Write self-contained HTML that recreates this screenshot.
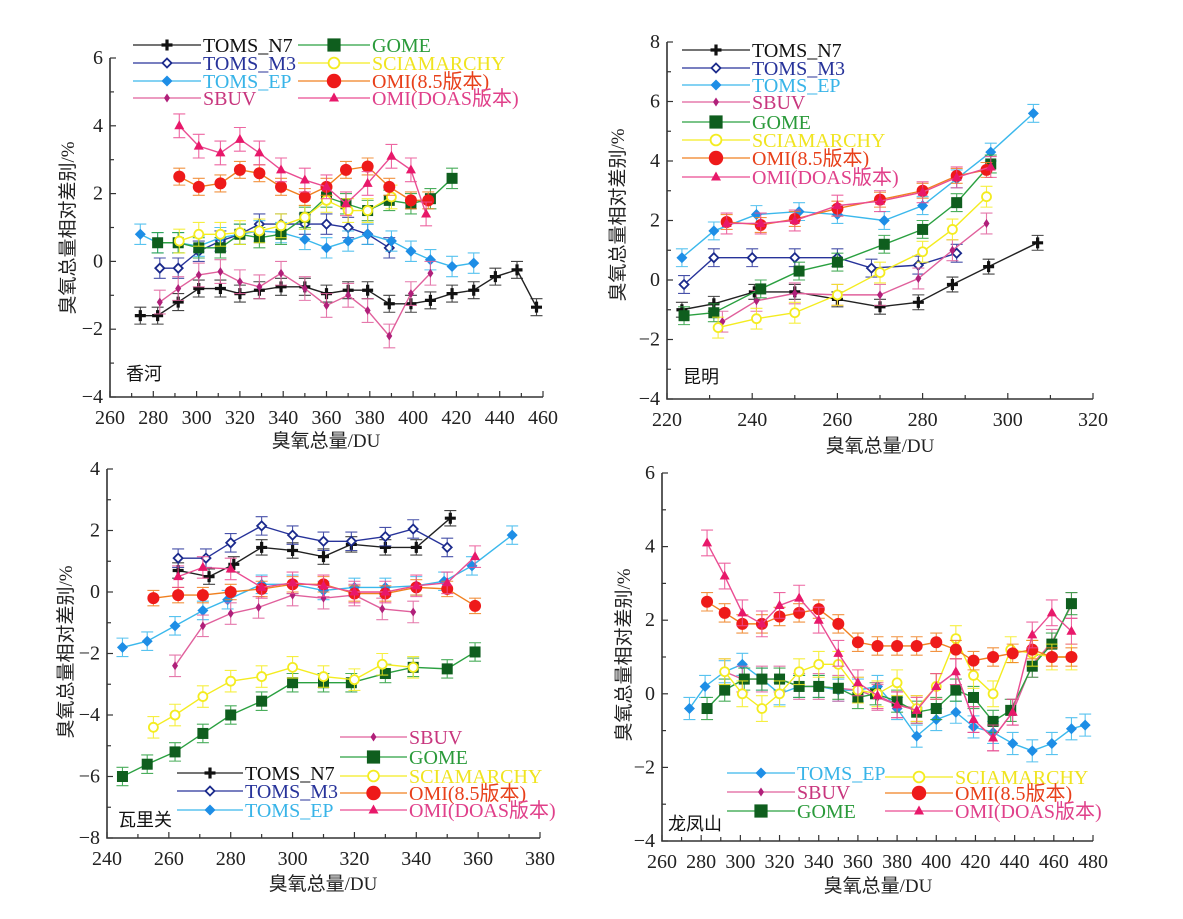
<!DOCTYPE html>
<html><head><meta charset="utf-8">
<style>
html,body{margin:0;padding:0;background:#fff;}
svg{display:block;}
text{font-family:"Liberation Serif","Noto Serif CJK SC",serif;}
.cjk{font-family:"Liberation Serif","Noto Sans CJK SC",sans-serif;}
</style></head>
<body>
<svg id="chart" width="1183" height="919" viewBox="0 0 1183 919" xmlns="http://www.w3.org/2000/svg"></svg>
<script>
// ---------- Panel 1: 香河 ----------
const p1_N7_x=[274,282,291.5,301,311,320,329,339,350,360,370,379,389,399,408,418,428,438,448,457];
const p1_N7_y=[-1.6,-1.6,-1.2,-0.8,-0.8,-0.95,-0.85,-0.75,-0.75,-0.95,-0.85,-0.85,-1.25,-1.25,-1.15,-0.95,-0.85,-0.45,-0.25,-1.35];
const p1_M3_x=[283,291.5,301,311,320,329,339,350,360,370,379,389];
const p1_M3_y=[-0.2,-0.2,0.3,0.6,0.8,1.1,1.1,1.1,1.1,1.0,0.8,0.4];
const p1_EP_x=[274,282,291.5,301,311,320,329,339,350,360,370,379,390,399,408,418,428];
const p1_EP_y=[0.8,0.55,0.55,0.45,0.7,0.8,0.9,0.85,0.65,0.4,0.6,0.8,0.6,0.3,0.05,-0.15,-0.05];
const p1_SB_x=[283,291.5,301,311,320,329,339,350,360,370,379,389,399,408];
const p1_SB_y=[-1.2,-0.8,-0.4,-0.3,-0.6,-0.75,-0.35,-0.8,-1.3,-1.0,-1.45,-2.2,-0.95,-0.35];
const p1_GO_x=[282,291.5,301,311,320,329,339,350,360,369,379,389,399,408,418];
const p1_GO_y=[0.55,0.55,0.4,0.4,0.8,0.7,0.8,1.3,1.9,1.7,1.5,1.8,1.7,1.85,2.45];
const p1_SC_x=[292,301,311,320,329,339,350,360,370,379,390];
const p1_SC_y=[0.6,0.8,0.8,0.85,0.9,1.05,1.3,1.8,1.5,1.5,1.9];
const p1_OM_x=[292,301,311,320,329,339,350,360,369,379,389,399,407];
const p1_OM_y=[2.5,2.2,2.3,2.7,2.6,2.2,1.9,2.2,2.7,2.8,2.2,1.8,1.8];
const p1_DO_x=[292,301,311,320,329,339,350,360,369,379,390,399,406];
const p1_DO_y=[4.0,3.4,3.2,3.6,3.2,2.7,2.4,2.2,1.7,2.3,3.1,2.7,1.4];
// ---------- Panel 2: 昆明 ----------
const p2_N7_x=[223.5,231,240.5,250,260,270,279,287,295.5,307];
const p2_N7_y=[-1.0,-0.8,-0.4,-0.4,-0.65,-0.9,-0.75,-0.15,0.45,1.25];
const p2_M3_x=[224,231,240,250,260,268,279,288];
const p2_M3_y=[-0.15,0.75,0.75,0.75,0.75,0.4,0.5,0.9];
const p2_EP_x=[223.5,231,241,251,260,271,280,288,296,306];
const p2_EP_y=[0.75,1.65,2.2,2.3,2.2,2.0,2.5,3.4,4.3,5.6];
const p2_SB_x=[233,241,250,260,270,279,287,295];
const p2_SB_y=[-1.4,-0.7,-0.45,-0.5,-0.5,0.05,1.0,1.9];
const p2_GO_x=[224,231,242,251,260,271,280,288,296];
const p2_GO_y=[-1.2,-1.1,-0.3,0.3,0.6,1.2,1.7,2.6,3.9];
const p2_SC_x=[232,241,250,260,270,280,287,295];
const p2_SC_y=[-1.6,-1.3,-1.1,-0.5,0.25,0.95,1.7,2.8];
const p2_OM_x=[234,242,250,260,270,280,288,295];
const p2_OM_y=[1.95,1.85,2.05,2.4,2.7,3.0,3.5,3.7];
const p2_DO_x=[234,242,250,260,270,280,288,296];
const p2_DO_y=[1.9,1.9,2.0,2.5,2.65,2.95,3.45,3.8];
// ---------- Panel 3: 瓦里关 ----------
const p3_N7_x=[263,273,281,290,300,310,319,330,340,351];
const p3_N7_y=[0.7,0.5,0.9,1.45,1.35,1.15,1.55,1.45,1.45,2.4];
const p3_M3_x=[263,272,280,290,300,310,319,330,339,350];
const p3_M3_y=[1.1,1.1,1.6,2.15,1.85,1.65,1.65,1.8,2.05,1.45];
const p3_EP_x=[245,253,262,271,279,290,300,310,320,330,340,349,358,371];
const p3_EP_y=[-1.8,-1.6,-1.1,-0.6,-0.25,0.25,0.25,0.05,0.15,0.15,0.2,0.35,0.85,1.85];
const p3_SB_x=[262,271,280,289,300,310,320,329,339];
const p3_SB_y=[-2.4,-1.1,-0.7,-0.5,-0.1,-0.2,-0.1,-0.55,-0.65];
const p3_GO_x=[245,253,262,271,280,290,300,310,319,330,339,350,359];
const p3_GO_y=[-6.0,-5.6,-5.2,-4.6,-4.0,-3.55,-2.95,-2.95,-2.95,-2.65,-2.45,-2.5,-1.95];
const p3_SC_x=[255,262,271,280,290,300,310,320,329,339];
const p3_SC_y=[-4.4,-4.0,-3.4,-2.9,-2.75,-2.45,-2.75,-2.85,-2.35,-2.45];
const p3_OM_x=[255,263,271,280,290,300,310,320,330,340,350,359];
const p3_OM_y=[-0.2,-0.1,-0.1,0.0,0.1,0.25,0.25,-0.05,-0.05,0.15,0.1,-0.45];
const p3_DO_x=[263,271,280,290,300,310,320,330,340,350,359];
const p3_DO_y=[0.5,0.8,0.75,0.15,0.3,0.2,0.0,0.0,0.2,0.3,1.15];
// ---------- Panel 4: 龙凤山 ----------
const p4_EP_x=[274,282,292,301,311,320,330,340,350,360,370,380,390,400,410,419,429,439,449,459,469,476];
const p4_EP_y=[-0.4,0.2,0.6,0.8,0.4,0.0,0.2,0.2,0.1,0.1,0.2,-0.4,-1.15,-0.7,-0.5,-0.9,-1.05,-1.35,-1.55,-1.35,-0.95,-0.85];
const p4_SB_x=[292,301,311,320,330,340,350,360,370,380,390,400,410,419,429,439,449,459,469];
const p4_SB_y=[0.6,0.4,0.4,0.4,0.2,0.2,0.15,0.1,-0.1,-0.3,-0.4,0.2,0.6,-0.7,-1.2,-0.5,0.8,1.4,2.4];
const p4_GO_x=[283,292,302,311,320,330,340,350,360,369,380,390,400,410,419,429,438,449,459,469];
const p4_GO_y=[-0.4,0.1,0.4,0.4,0.4,0.2,0.2,0.15,-0.1,0.0,-0.2,-0.5,-0.4,0.1,-0.1,-0.75,-0.45,0.75,1.35,2.45];
const p4_SC_x=[292,301,311,320,330,340,350,360,370,380,390,400,410,419,429,438,449,459,469];
const p4_SC_y=[0.6,0.0,-0.4,0.0,0.6,0.8,0.8,0.1,0.0,0.3,-0.4,0.2,1.5,0.5,0.0,1.2,1.1,1.0,1.0];
const p4_OM_x=[283,292,301,311,320,330,340,350,360,370,380,390,400,410,419,429,439,449,459,469];
const p4_OM_y=[2.5,2.2,1.9,1.9,2.1,2.2,2.3,1.9,1.4,1.3,1.3,1.3,1.4,1.2,0.9,1.0,1.1,1.2,1.0,1.0];
const p4_DO_x=[283,292,301,311,320,330,340,350,360,370,380,390,400,410,419,429,439,449,459,469];
const p4_DO_y=[4.1,3.2,2.2,1.9,2.4,2.6,2.0,1.1,0.3,-0.05,-0.3,-0.45,0.2,0.6,-0.7,-1.2,-0.5,1.6,2.2,1.7];

const NS="http://www.w3.org/2000/svg";
const svg=document.getElementById('chart');
function mk(tag,attrs,parent){const e=document.createElementNS(NS,tag);for(const k in attrs)e.setAttribute(k,attrs[k]);(parent||svg).appendChild(e);return e;}

const STY={
 N7:{line:'#222',fill:'#111',mk:'plus',err:0.25,name:'TOMS_N7',tc:'#111'},
 M3:{line:'#27339a',fill:'#1b2a8c',mk:'odiam',err:0.3,name:'TOMS_M3',tc:'#27339a'},
 EP:{line:'#3bb8ec',fill:'#1e8ee6',mk:'diam',err:0.3,name:'TOMS_EP',tc:'#38b4e8'},
 SB:{line:'#e0609c',fill:'#b0207a',mk:'sdiam',err:0.35,name:'SBUV',tc:'#c8367e'},
 GO:{line:'#2aa040',fill:'#0f5e1e',mk:'sq',err:0.3,name:'GOME',tc:'#2a9a3a'},
 SC:{line:'#f4ec20',fill:'#f4ec20',mk:'ocirc',err:0.35,name:'SCIAMARCHY',tc:'#f0e420'},
 OM:{line:'#f08020',fill:'#ee1a1a',mk:'circ',err:0.25,name:'OMI(8.5版本)',tc:'#e8401a'},
 DO:{line:'#ea4c92',fill:'#e8186a',mk:'tri',err:0.35,name:'OMI(DOAS版本)',tc:'#e0408a'}
};

function marker(g,k,x,y,s){
 const st=STY[k];
 if(st.mk==='plus'){mk('path',{d:`M${x-5.5},${y}H${x+5.5}M${x},${y-5.5}V${y+5.5}`,stroke:st.fill,'stroke-width':3.2},g);}
 else if(st.mk==='odiam'){mk('path',{d:`M${x},${y-4.5}L${x+4.5},${y}L${x},${y+4.5}L${x-4.5},${y}Z`,fill:'#fff',stroke:st.fill,'stroke-width':1.8},g);}
 else if(st.mk==='diam'){mk('path',{d:`M${x},${y-5.5}L${x+5.5},${y}L${x},${y+5.5}L${x-5.5},${y}Z`,fill:st.fill},g);}
 else if(st.mk==='sdiam'){mk('path',{d:`M${x},${y-4.5}L${x+3},${y}L${x},${y+4.5}L${x-3},${y}Z`,fill:st.fill},g);}
 else if(st.mk==='sq'){mk('rect',{x:x-5.5*s,y:y-5.5*s,width:11*s,height:11*s,fill:st.fill},g);}
 else if(st.mk==='ocirc'){mk('circle',{cx:x,cy:y,r:4.5*s,fill:'#fff',stroke:st.fill,'stroke-width':1.8},g);}
 else if(st.mk==='circ'){mk('circle',{cx:x,cy:y,r:6*s,fill:st.fill},g);}
 else if(st.mk==='tri'){mk('path',{d:`M${x},${y-5.5}L${x+5},${y+3.5}L${x-5},${y+3.5}Z`,fill:st.fill},g);}
}

function panel(P){
 const g=mk('g',{});
 
 
 const sx=v=>P.x0+(v-P.xmin)*(P.x1-P.x0)/(P.xmax-P.xmin);
 const sy=v=>P.y0-(v-P.ymin)*(P.y0-P.y1)/(P.ymax-P.ymin);
 const ax=mk('path',{d:`M${P.x0},${P.y1}V${P.y0}H${P.x1}`,stroke:'#333','stroke-width':1.6,fill:'none'},g);
 
 
 for(let v=P.xmin;v<=P.xmax+1e-9;v+=P.xstep/2){
  const X=sx(v);const major=Math.abs(((v-P.xmin)/P.xstep)%1)<1e-6;
  mk('line',{x1:X,x2:X,y1:P.y0,y2:P.y0-(major?6:4),stroke:'#333','stroke-width':1.2},g);
  if(major){const t=mk('text',{x:X,y:P.y0+27,'text-anchor':'middle','font-size':20,fill:'#222'},g);t.textContent=v;
   
   }
 }
 for(let v=P.ymin;v<=P.ymax+1e-9;v+=P.ystep/2){
  const Y=sy(v);const major=Math.abs(((v-P.ymin)/P.ystep)%1)<1e-6;
  mk('line',{x1:P.x0,x2:P.x0+(major?6:4),y1:Y,y2:Y,stroke:'#333','stroke-width':1.2},g);
  if(major){const t=mk('text',{x:P.x0-7,y:Y+6,'text-anchor':'end','font-size':20,fill:'#222'},g);t.textContent=(v<0?'\u2212'+(-v):v);
   
   }
 }
 const xt=mk('text',{x:P.xtx,y:P.xty,'text-anchor':'middle','font-size':19,fill:'#222','class':'cjk'},g);xt.textContent='臭氧总量/DU';
 
 
 const yt=mk('text',{x:0,y:0,'text-anchor':'middle','font-size':19,fill:'#222','class':'cjk',transform:`translate(${P.ytx},${P.yty}) rotate(-90)`},g);yt.textContent='臭氧总量相对差别/%';
 
 
 const st=mk('text',{x:P.stx,y:P.sty,'font-size':18,fill:'#111','class':'cjk'},g);st.textContent=P.station;
 
 
 P.series.forEach(([k,xs,ys])=>{
  const S=STY[k];
  const sg=mk('g',{},g);
  
  
  xs.forEach((x,i)=>{const X=sx(x),a=sy(ys[i]+S.err),b=sy(ys[i]-S.err);
   mk('path',{d:`M${X},${a}V${b}M${X-6},${a}H${X+6}M${X-6},${b}H${X+6}`,stroke:S.line,'stroke-width':1.1,fill:'none',opacity:0.85},sg);});
  mk('polyline',{points:xs.map((x,i)=>sx(x)+','+sy(ys[i])).join(' '),fill:'none',stroke:S.line,'stroke-width':1.4},sg);
  xs.forEach((x,i)=>marker(sg,k,sx(x),sy(ys[i]),1));
 });
 P.legend.forEach(([k,lx0,lx1,ly])=>{
  const S=STY[k];
  const lg=mk('g',{},g);
  
  
  mk('line',{x1:lx0,x2:lx1,y1:ly,y2:ly,stroke:S.line,'stroke-width':1.3},lg);
  marker(lg,k,(lx0+lx1)/2,ly,1.2);
  const t=mk('text',{x:lx1+2,y:ly+7,'font-size':20,fill:S.tc,'class':'cjk'},lg);t.textContent=S.name;
 });
}

panel({id:'xianghe',station:'香河',x0:110,x1:543,y0:397,y1:58,xmin:260,xmax:460,xstep:20,ymin:-4,ymax:6,ystep:2,
 xtx:326,xty:447,ytx:74,yty:228,stx:126,sty:380,
 series:[['N7',p1_N7_x,p1_N7_y],['M3',p1_M3_x,p1_M3_y],['EP',p1_EP_x,p1_EP_y],['SB',p1_SB_x,p1_SB_y],['GO',p1_GO_x,p1_GO_y],['SC',p1_SC_x,p1_SC_y],['OM',p1_OM_x,p1_OM_y],['DO',p1_DO_x,p1_DO_y]],
 legend:[['N7',133,201,45],['M3',133,201,63],['EP',133,201,81],['SB',133,201,98],['GO',298,370,45],['SC',298,370,63],['OM',298,370,81],['DO',298,370,98]]});
panel({id:'kunming',station:'昆明',x0:667,x1:1093,y0:399,y1:42,xmin:220,xmax:320,xstep:20,ymin:-4,ymax:8,ystep:2,
 xtx:880,xty:452,ytx:624,yty:215,stx:683,sty:383,
 series:[['N7',p2_N7_x,p2_N7_y],['M3',p2_M3_x,p2_M3_y],['EP',p2_EP_x,p2_EP_y],['SB',p2_SB_x,p2_SB_y],['GO',p2_GO_x,p2_GO_y],['SC',p2_SC_x,p2_SC_y],['OM',p2_OM_x,p2_OM_y],['DO',p2_DO_x,p2_DO_y]],
 legend:[['N7',682,750,50],['M3',682,750,68],['EP',682,750,85],['SB',682,750,102],['GO',682,750,122],['SC',682,750,140],['OM',682,750,158],['DO',682,750,177]]});
panel({id:'waliguan',station:'瓦里关',x0:107,x1:540,y0:838,y1:469,xmin:240,xmax:380,xstep:20,ymin:-8,ymax:4,ystep:2,
 xtx:323,xty:890,ytx:72,yty:652,stx:118,sty:826,
 series:[['N7',p3_N7_x,p3_N7_y],['M3',p3_M3_x,p3_M3_y],['EP',p3_EP_x,p3_EP_y],['SB',p3_SB_x,p3_SB_y],['GO',p3_GO_x,p3_GO_y],['SC',p3_SC_x,p3_SC_y],['OM',p3_OM_x,p3_OM_y],['DO',p3_DO_x,p3_DO_y]],
 legend:[['N7',177,243,773],['M3',177,243,791],['EP',177,243,810],['SB',340,407,737],['GO',340,407,757],['SC',340,407,776],['OM',340,407,793],['DO',340,407,810]]});
panel({id:'longfengshan',station:'龙凤山',x0:662,x1:1093,y0:841,y1:473,xmin:260,xmax:480,xstep:20,ymin:-4,ymax:6,ystep:2,
 xtx:878,xty:892,ytx:630,yty:655,stx:668,sty:830,
 series:[['EP',p4_EP_x,p4_EP_y],['SB',p4_SB_x,p4_SB_y],['GO',p4_GO_x,p4_GO_y],['SC',p4_SC_x,p4_SC_y],['OM',p4_OM_x,p4_OM_y],['DO',p4_DO_x,p4_DO_y]],
 legend:[['EP',727,795,773],['SB',727,795,792],['GO',727,795,811],['SC',885,953,777],['OM',885,953,793],['DO',885,953,811]]});
</script>
</body></html>
